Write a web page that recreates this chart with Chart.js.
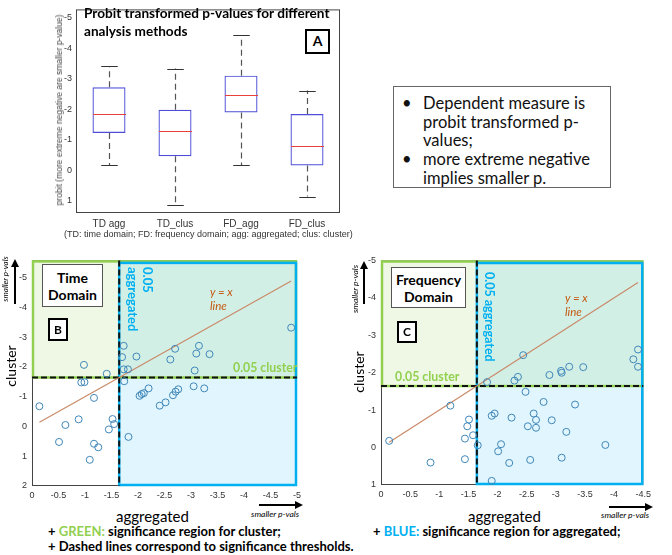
<!DOCTYPE html>
<html>
<head>
<meta charset="utf-8">
<script src="https://cdn.jsdelivr.net/npm/chart.js@4.4.0/dist/chart.umd.min.js"></script>
<style>
  body { margin: 0; width: 672px; height: 555px; position: relative; background: #fff; font-family: Lato, sans-serif; overflow: hidden; }
  .wrap { position: absolute; }
  .t { position: absolute; white-space: nowrap; }
  .lbl { position: absolute; white-space: nowrap; transform: translate(-50%, -50%) rotate(-90deg); }
  .frame { position: absolute; box-sizing: border-box; background: #fff; text-align: center; font-weight: bold; }
</style>
</head>
<body>

<div class="wrap" style="left:0;top:0;width:345px;height:230px"><canvas id="chartA"></canvas></div>
<div class="wrap" style="left:0;top:250px;width:305px;height:250px"><canvas id="chartB"></canvas></div>
<div class="wrap" style="left:340px;top:250px;width:315px;height:250px"><canvas id="chartC"></canvas></div>

<!-- panel A text -->
<div class="t" style="left:84px;top:4px;font-size:13.6px;line-height:18px;font-weight:bold">Probit transformed p-values for different<br>analysis methods</div>
<div class="frame" style="left:305px;top:29px;width:25px;height:25px;border:2.5px solid #000;font-size:14px;line-height:20px">A</div>
<div class="lbl" style="left:59px;top:110px;font:8.5px 'Liberation Sans',Arial;color:#444">probit (more extreme negative are smaller p-value)</div>
<div class="t" style="left:64px;top:229px;font:9px 'Liberation Sans',Arial;color:#333">(TD: time domain; FD: frequency domain; agg: aggregated; clus: cluster)</div>

<!-- note box -->
<div style="position:absolute;left:393px;top:86px;width:218px;height:102px;box-sizing:border-box;border:1px solid #666;font-size:16.5px;line-height:18.7px;color:#111">
  <div class="t" style="left:8px;top:7px">•</div>
  <div class="t" style="left:29px;top:7px">Dependent measure is<br>probit transformed p-<br>values;</div>
  <div class="t" style="left:8px;top:63px">•</div>
  <div class="t" style="left:29px;top:63px">more extreme negative<br>implies smaller p.</div>
</div>

<!-- panel B text -->
<div class="frame" style="left:42px;top:264px;width:61px;height:43px;border:1px solid #555;font-size:14px;line-height:17px;padding-top:4px">Time<br>Domain</div>
<div class="frame" style="left:48px;top:318px;width:20px;height:23px;border:2px solid #000;font-size:12px;line-height:19px">B</div>
<div class="t" style="left:124.5px;top:267px;writing-mode:vertical-rl;font-size:13px;line-height:15px;font-weight:bold;color:#00b0f0">0.05<br>aggregated</div>
<div class="t" style="left:233px;top:360px;font-size:12.3px;line-height:16px;font-weight:bold;color:#92d050">0.05 cluster</div>
<div class="t" style="left:210px;top:285px;font-size:11.5px;line-height:14px;font-style:italic;color:#c55a11">y = x<br>line</div>
<div class="lbl" style="left:10px;top:366px;font-size:14px">cluster</div>
<div class="lbl" style="left:5px;top:279px;font-size:8px;font-style:italic">smaller p-vals</div>
<svg style="position:absolute;left:10px;top:259px" width="10" height="46"><line x1="5" y1="6" x2="5" y2="45" stroke="#000" stroke-width="2"/><polygon points="5,0 1,8 9,8" fill="#000"/></svg>
<div class="t" style="left:116px;top:507px;font-size:15px;line-height:18px">aggregated</div>
<div class="t" style="left:251px;top:509px;font-size:8.5px;font-style:italic">smaller p-vals</div>
<svg style="position:absolute;left:259px;top:500px" width="44" height="10"><line x1="0" y1="5" x2="36" y2="5" stroke="#000" stroke-width="2"/><polygon points="44,5 36,1 36,9" fill="#000"/></svg>

<!-- panel C text -->
<div class="frame" style="left:391px;top:267px;width:75px;height:41px;border:1px solid #555;font-size:14px;line-height:17px;padding-top:3px">Frequency<br>Domain</div>
<div class="frame" style="left:397px;top:321px;width:20px;height:22px;border:2px solid #000;font-size:12px;line-height:18px">C</div>
<div class="t" style="left:481.5px;top:272px;writing-mode:vertical-rl;font-size:12.5px;line-height:15px;font-weight:bold;color:#00b0f0">0.05 aggregated</div>
<div class="t" style="left:395px;top:369px;font-size:12.3px;line-height:16px;font-weight:bold;color:#92d050">0.05 cluster</div>
<div class="t" style="left:565px;top:291px;font-size:11.5px;line-height:14px;font-style:italic;color:#c55a11">y = x<br>line</div>
<div class="lbl" style="left:358px;top:372px;font-size:14px">cluster</div>
<div class="lbl" style="left:355px;top:289px;font-size:8.5px;font-style:italic">smaller p-vals</div>
<svg style="position:absolute;left:359px;top:261px" width="10" height="44"><line x1="5" y1="6" x2="5" y2="43" stroke="#000" stroke-width="2"/><polygon points="5,0 1,8 9,8" fill="#000"/></svg>
<div class="t" style="left:468px;top:507px;font-size:15px;line-height:18px">aggregated</div>
<div class="t" style="left:601px;top:510px;font-size:8.5px;font-style:italic">smaller p-vals</div>
<svg style="position:absolute;left:609px;top:502px" width="44" height="10"><line x1="0" y1="5" x2="36" y2="5" stroke="#000" stroke-width="2"/><polygon points="44,5 36,1 36,9" fill="#000"/></svg>

<!-- notes -->
<div class="t" style="left:48px;top:524px;font-size:13px;line-height:15px;font-weight:bold"><span>+ </span><span style="color:#92d050">GREEN:</span> significance region for cluster;<br>+ Dashed lines correspond to significance thresholds.</div>
<div class="t" style="left:373px;top:524px;font-size:13px;line-height:15px;font-weight:bold">+ <span style="color:#00b0f0">BLUE:</span> significance region for aggregated;</div>

<script>
// panel A: boxplot summary per method
const methods = ['TD agg', 'TD_clus', 'FD_agg', 'FD_clus'];
const whiskerLow = [-0.16, 1.13, -0.16, 0.86];
const q1 = [-1.22, -0.46, -1.89, -0.16];
const medians = [-1.85, -1.27, -2.48, -0.80];
const q3 = [-2.72, -1.98, -3.10, -1.84];
const whiskerHigh = [-3.40, -3.33, -4.42, -2.61];
const probitTicks = [-5, -4, -3, -2, -1, 0, 1];

// panel B: time domain, aggregated vs cluster
const tdAgg = [-0.14, -0.51, -0.63, -0.88, -0.98, -0.93, -0.99, -1.17, -1.17, -1.25,
  -1.09, -1.41, -1.52, -1.45, -1.55, -1.70, -1.73, -1.73, -1.81, -1.74,
  -1.82, -1.97, -2.03, -2.07, -2.11, -2.20, -2.41, -2.52, -2.61, -2.70,
  -2.66, -2.71, -2.76, -3.05, -3.07, -3.10, -3.15, -3.25, -3.35, -4.89];
const tdClus = [-0.68, 0.52, -0.05, -0.24, -2.07, -1.48, -1.49, -0.96, 0.58, 0.70,
  1.12, -1.77, -0.25, 0.10, -0.08, -2.33, -2.71, -1.92, -1.92, -1.52,
  0.35, -2.35, -1.03, -1.09, -1.12, -1.28, -0.70, -0.81, -2.25, -2.61,
  -1.05, -1.17, -1.25, -1.35, -1.88, -2.45, -2.71, -1.28, -2.43, -3.32];
const tdXTicks = [0, -0.5, -1, -1.5, -2, -2.5, -3, -3.5, -4, -4.5, -5];
const tdYTicks = [-5, -4, -3, -2, -1, 0, 1, 2];

// panel C: frequency domain, aggregated vs cluster
const fdAgg = [-0.14, -0.85, -1.19, -1.44, -1.44, -1.48, -1.51, -1.58, -1.66, -1.82,
  -1.90, -1.95, -2.01, -2.06, -1.90, -2.20, -2.24, -2.29, -2.35, -2.44,
  -2.48, -2.52, -2.56, -2.62, -2.66, -2.66, -2.79, -2.89, -2.93, -3.09,
  -3.10, -3.10, -3.18, -3.23, -3.33, -3.47, -3.85, -4.33, -4.41, -4.41];
const fdClus = [-0.18, 0.40, -1.12, -0.24, 0.31, -0.57, -0.75, -0.33, -0.06, -1.75,
  -0.85, -0.91, 0.10, -0.09, 0.89, 0.41, -0.80, -1.79, -1.89, -2.47,
  -1.49, -0.57, 0.33, -0.91, -0.74, -0.53, -1.22, -1.94, -0.73, -2.05,
  -2.00, 0.27, -0.42, -2.16, -1.15, -2.15, -0.07, -2.36, -2.62, -2.16];
const fdXTicks = [0, -0.5, -1, -1.5, -2, -2.5, -3, -3.5, -4, -4.5];
const fdYTicks = [-5, -4, -3, -2, -1, 0, 1];

const threshold = -1.645; // probit of p = 0.05

const tickFont = { family: "'Liberation Sans', Arial, sans-serif", size: 9 };

const frame = {
  id: 'frame',
  beforeDatasetsDraw(chart) {
    const { ctx, chartArea: a } = chart;
    ctx.save();
    ctx.strokeStyle = '#444';
    ctx.lineWidth = 1;
    ctx.strokeRect(a.left + 0.5, a.top + 0.5, a.right - a.left - 1, a.bottom - a.top - 1);
    ctx.restore();
  }
};

const whiskers = {
  id: 'whiskers',
  afterDatasetsDraw(chart) {
    const { ctx, scales: { x, y } } = chart;
    const meta = chart.getDatasetMeta(0);
    ctx.save();
    methods.forEach((m, i) => {
      const cx = Math.round(x.getPixelForValue(i)) + 0.5;
      const w = meta.data[i].width;
      ctx.strokeStyle = '#555';
      ctx.lineWidth = 1.2;
      ctx.setLineDash([6, 4]);
      ctx.beginPath();
      ctx.moveTo(cx, y.getPixelForValue(q3[i]));
      ctx.lineTo(cx, y.getPixelForValue(whiskerHigh[i]));
      ctx.moveTo(cx, y.getPixelForValue(q1[i]));
      ctx.lineTo(cx, y.getPixelForValue(whiskerLow[i]));
      ctx.stroke();
      ctx.setLineDash([]);
      ctx.strokeStyle = '#333';
      ctx.beginPath();
      [whiskerHigh[i], whiskerLow[i]].forEach(v => {
        const py = Math.round(y.getPixelForValue(v)) + 0.5;
        ctx.moveTo(cx - w / 4, py);
        ctx.lineTo(cx + w / 4, py);
      });
      ctx.stroke();
      ctx.strokeStyle = '#e8413d';
      ctx.beginPath();
      const my = Math.round(y.getPixelForValue(medians[i])) + 0.5;
      ctx.moveTo(cx - w / 2, my);
      ctx.lineTo(cx + w / 2, my);
      ctx.stroke();
    });
    ctx.restore();
  }
};

const regions = {
  id: 'regions',
  beforeDatasetsDraw(chart) {
    const { ctx, chartArea: a, scales: { x, y } } = chart;
    const tx = x.getPixelForValue(threshold);
    const ty = y.getPixelForValue(threshold);
    ctx.save();
    ctx.fillStyle = 'rgba(146,208,80,0.15)';
    ctx.fillRect(a.left, a.top, a.right - a.left, ty - a.top);
    ctx.fillStyle = 'rgba(0,176,240,0.12)';
    ctx.fillRect(tx, a.top, a.right - tx, a.bottom - a.top);
    ctx.lineWidth = 2.5;
    ctx.strokeStyle = '#92d050';
    ctx.strokeRect(a.left + 1, a.top + 1, a.right - a.left - 2, ty - a.top - 1);
    ctx.strokeStyle = '#00b0f0';
    ctx.strokeRect(tx, a.top + 2.5, a.right - tx - 1, a.bottom - a.top - 3.5);
    ctx.strokeStyle = '#111';
    ctx.lineWidth = 2;
    ctx.setLineDash([6, 3]);
    ctx.beginPath();
    ctx.moveTo(a.left, ty);
    ctx.lineTo(a.right, ty);
    ctx.moveTo(tx, a.top);
    ctx.lineTo(tx, a.bottom);
    ctx.stroke();
    ctx.restore();
  }
};

new Chart(document.getElementById('chartA'), {
  type: 'bar',
  data: {
    labels: methods,
    datasets: [{
      data: methods.map((m, i) => [q1[i], q3[i]]),
      backgroundColor: 'rgba(0,0,0,0)',
      borderColor: '#4d4dd8',
      borderWidth: 1.2,
      borderSkipped: false,
      barPercentage: 1,
      categoryPercentage: 0.5
    }]
  },
  options: {
    responsive: true,
    maintainAspectRatio: false,
    animation: false,
    layout: { padding: { top: 2, right: 5, left: 0, bottom: 0 } },
    plugins: { legend: { display: false }, tooltip: { enabled: false } },
    scales: {
      x: {
        grid: { display: false, drawTicks: false },
        border: { display: false },
        ticks: { font: { ...tickFont, size: 10 }, color: '#333', padding: 5 },
        afterFit: s => { s.height = 17; }
      },
      y: {
        reverse: true,
        min: -5.27,
        max: 1.4,
        grid: { display: false, drawTicks: false },
        border: { display: false },
        ticks: { font: tickFont, color: '#333', padding: 4, callback: v => String(v) },
        afterBuildTicks: s => { s.ticks = probitTicks.map(v => ({ value: v })); },
        afterFit: s => { s.width = 76; }
      }
    }
  },
  plugins: [frame, whiskers]
});

function scatterChart(id, xs, ys, xTicks, yTicks, xMin, yMin, yMax, yWidth, xHeight, pad) {
  const lo = Math.min(...xs), hi = Math.max(...xs);
  return new Chart(document.getElementById(id), {
    type: 'scatter',
    data: {
      datasets: [{
        data: xs.map((v, i) => ({ x: v, y: ys[i] })),
        showLine: false,
        pointRadius: 3.5,
        pointBorderWidth: 1,
        pointBorderColor: '#3f86b8',
        pointBackgroundColor: 'rgba(0,0,0,0)'
      }, {
        type: 'line',
        data: [{ x: hi, y: hi }, { x: lo, y: lo }],
        borderColor: '#c98a68',
        borderWidth: 1.2,
        pointRadius: 0
      }]
    },
    options: {
      responsive: true,
      maintainAspectRatio: false,
      animation: false,
      layout: { padding: pad },
      plugins: { legend: { display: false }, tooltip: { enabled: false } },
      scales: {
        x: {
          type: 'linear',
          reverse: true,
          min: xMin,
          max: 0,
          grid: { display: false, drawTicks: false },
          border: { display: false },
          ticks: { font: tickFont, color: '#333', padding: 4, callback: v => String(v) },
          afterBuildTicks: s => { s.ticks = xTicks.map(v => ({ value: v })); },
          afterFit: s => { s.height = xHeight; }
        },
        y: {
          type: 'linear',
          reverse: true,
          min: yMin,
          max: yMax,
          grid: { display: false, drawTicks: false },
          border: { display: false },
          ticks: { font: tickFont, color: '#333', padding: 5, callback: v => String(v) },
          afterBuildTicks: s => { s.ticks = yTicks.map(v => ({ value: v })); },
          afterFit: s => { s.width = yWidth; }
        }
      }
    },
    plugins: [frame, regions]
  });
}

scatterChart('chartB', tdAgg, tdClus, tdXTicks, tdYTicks, -5, -5.58, 2, 32, 14,
  { top: 7.5, right: 5, left: 0, bottom: 0 });
scatterChart('chartC', fdAgg, fdClus, fdXTicks, fdYTicks, -4.5, -5, 1, 41, 15,
  { top: 10.5, right: 7, left: 0, bottom: 0 });
</script>
</body>
</html>
